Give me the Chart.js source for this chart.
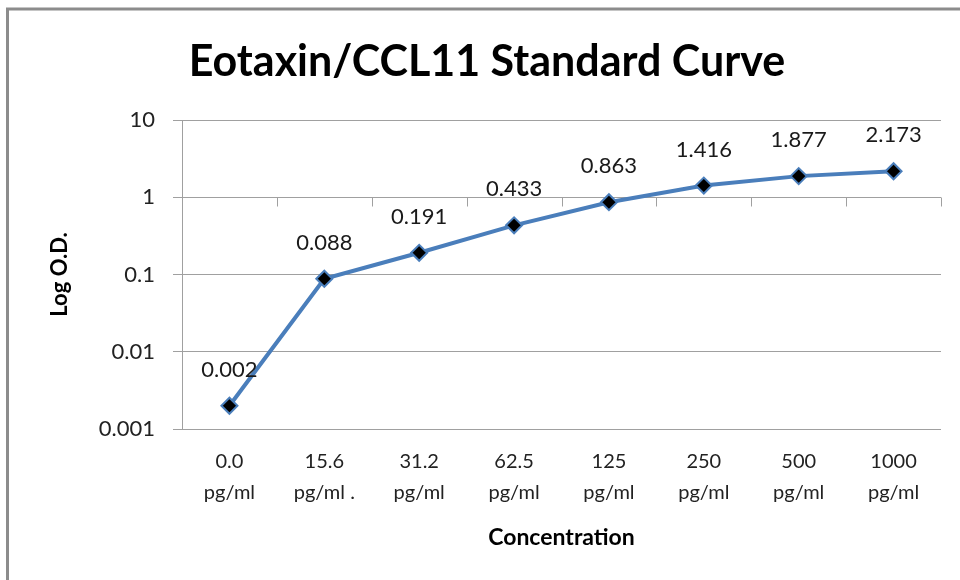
<!DOCTYPE html>
<html>
<head>
<meta charset="utf-8">
<script src="https://cdn.jsdelivr.net/npm/chart.js@4.4.0/dist/chart.umd.min.js"></script>
<style>
  html, body { margin: 0; padding: 0; background: #ffffff; }
  #wrap { position: relative; width: 960px; height: 580px; }
</style>
</head>
<body>
<div id="wrap"><canvas id="curveChart" width="960" height="580"></canvas></div>
<script>
// chart data
const concentrations = [['0.0', 'pg/ml'], ['15.6', 'pg/ml .'], ['31.2', 'pg/ml'], ['62.5', 'pg/ml'],
    ['125', 'pg/ml'], ['250', 'pg/ml'], ['500', 'pg/ml'], ['1000', 'pg/ml']];
const odValues = [0.002, 0.088, 0.191, 0.433, 0.863, 1.416, 1.877, 2.173];
const yTickValues = [0.001, 0.01, 0.1, 1, 10];
const yTickLabels = ['0.001', '0.01', '0.1', '1', '10'];

const gridGray = '#a0a0a0';
const lineBlue = '#4a7ebb';

// frame line at top and left of the picture
const framePlugin = {
    id: 'frame',
    beforeDraw(chart) {
        const ctx = chart.ctx;
        ctx.save();
        ctx.strokeStyle = '#8c8c8c';
        ctx.lineWidth = 3;
        ctx.beginPath();
        ctx.moveTo(7.5, 580);
        ctx.lineTo(7.5, 9);
        ctx.lineTo(960, 9);
        ctx.stroke();
        ctx.restore();
    }
};

// horizontal axis crosses the log axis at 1, tick marks hang below it
const crossAxisPlugin = {
    id: 'crossAxis',
    beforeDatasetsDraw(chart) {
        const x = chart.scales.x;
        const y = chart.scales.y;
        const ctx = chart.ctx;
        const yPos = Math.round(y.getPixelForValue(1)) + 0.5;
        ctx.save();
        ctx.strokeStyle = gridGray;
        ctx.lineWidth = 1;
        ctx.beginPath();
        ctx.moveTo(x.left, yPos);
        ctx.lineTo(x.right, yPos);
        for (let i = 0; i <= concentrations.length; i++) {
            const xPos = Math.round(x.getPixelForValue(i - 0.5)) + 0.5;
            ctx.moveTo(xPos, yPos);
            ctx.lineTo(xPos, yPos + 9);
        }
        ctx.stroke();
        ctx.restore();
    }
};

// value labels above the points
const valueLabelPlugin = {
    id: 'valueLabels',
    afterDatasetsDraw(chart) {
        const ctx = chart.ctx;
        const meta = chart.getDatasetMeta(0);
        ctx.save();
        ctx.font = '22px Lato';
        ctx.fillStyle = '#1a1a1a';
        ctx.textAlign = 'center';
        ctx.textBaseline = 'middle';
        meta.data.forEach((pt, i) => {
            ctx.fillText(odValues[i].toFixed(3), pt.x, pt.y - 36);
        });
        ctx.restore();
    }
};

const ctx = document.getElementById('curveChart').getContext('2d');
new Chart(ctx, {
    type: 'line',
    data: {
        labels: concentrations,
        datasets: [{
            label: 'Log O.D.',
            data: odValues,
            borderColor: lineBlue,
            borderWidth: 4,
            tension: 0,
            fill: false,
            pointStyle: 'rectRot',
            pointRadius: 8,
            pointBackgroundColor: '#000000',
            pointBorderColor: lineBlue,
            pointBorderWidth: 2
        }]
    },
    options: {
        responsive: false,
        animation: false,
        devicePixelRatio: 1,
        layout: {
            padding: { left: 33, right: 19, top: 0, bottom: 0 }
        },
        plugins: {
            legend: { display: false },
            tooltip: { enabled: false },
            title: {
                display: true,
                text: 'Eotaxin/CCL11 Standard Curve',
                color: '#000000',
                font: { family: 'Lato', size: 43, weight: 'bold', lineHeight: 1.2 },
                padding: { top: 36, bottom: 32.4 }
            }
        },
        scales: {
            x: {
                type: 'category',
                offset: true,
                grid: { display: false, drawTicks: false, offset: true },
                border: { display: false },
                ticks: {
                    color: '#222222',
                    padding: 17,
                    maxRotation: 0,
                    autoSkip: false,
                    font: { family: 'Lato', size: 20, lineHeight: 1.55 }
                },
                title: {
                    display: true,
                    text: 'Concentration',
                    color: '#000000',
                    font: { family: 'Lato', size: 23, weight: 'bold', lineHeight: 1.2 },
                    padding: { top: 29, bottom: 29 }
                },
                afterFit(scale) { scale.height = 151; }
            },
            y: {
                type: 'logarithmic',
                min: 0.001,
                max: 10,
                grid: { color: gridGray, lineWidth: 1, drawTicks: true, tickLength: 9, tickColor: gridGray },
                border: { display: true, color: gridGray, width: 1 },
                afterBuildTicks(scale) {
                    scale.ticks = yTickValues.map(v => ({ value: v }));
                },
                ticks: {
                    color: '#222222',
                    padding: 18,
                    font: { family: 'Lato', size: 22 },
                    callback(value) {
                        const i = yTickValues.indexOf(value);
                        return i >= 0 ? yTickLabels[i] : '';
                    }
                },
                title: {
                    display: true,
                    text: 'Log O.D.',
                    color: '#000000',
                    font: { family: 'Lato', size: 22, weight: 'bold', lineHeight: 1.2 },
                    padding: { top: 14, bottom: 14 }
                },
                afterFit(scale) { scale.width = 149; }
            }
        }
    },
    plugins: [framePlugin, crossAxisPlugin, valueLabelPlugin]
});
</script>
</body>
</html>
